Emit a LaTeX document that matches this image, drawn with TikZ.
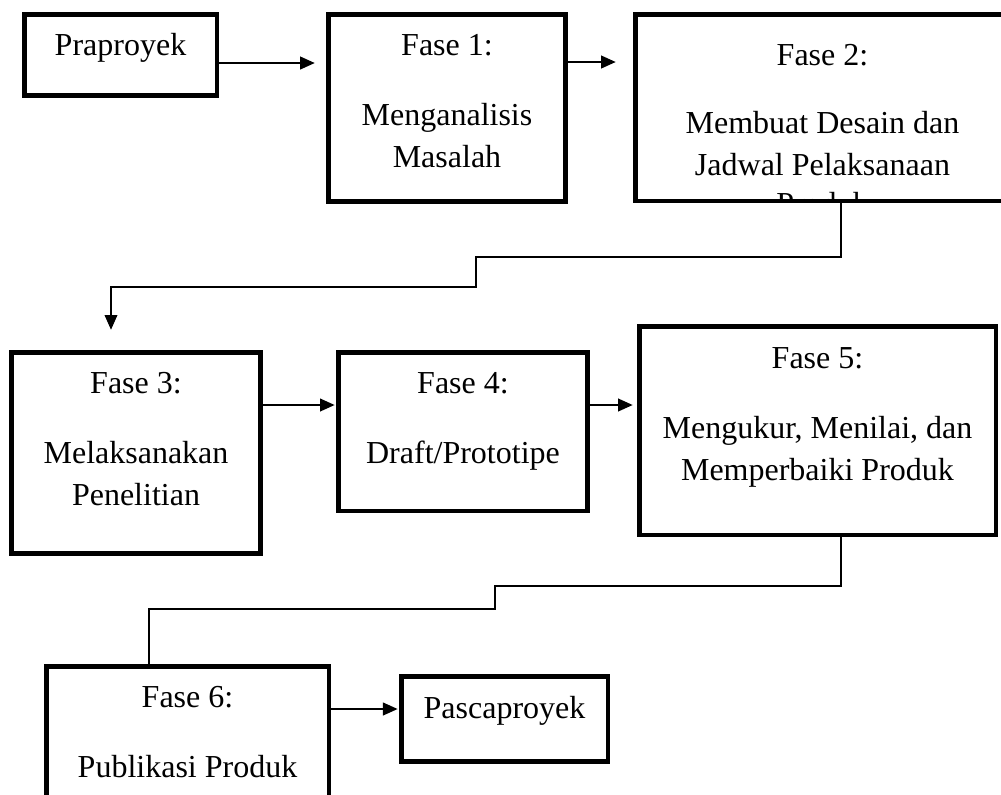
\documentclass[tikz,border=0pt]{standalone}
\usepackage{fontspec}
\setmainfont{Liberation Serif}
\usetikzlibrary{arrows.meta,calc}

\tikzset{every picture/.style={line width=0.75pt}}
\tikzset{
  box/.style={draw, line width=3.4pt, inner sep=0pt},
  txt/.style={anchor=base, inner sep=0pt, align=center, font=\fontsize{24}{31.5}\selectfont},
  arr/.style={line width=1.5pt, -{Triangle[length=11pt,width=9.5pt]}},
  link/.style={line width=1pt},
}

\begin{document}
\begin{tikzpicture}[x=0.75pt,y=0.75pt,yscale=-1,xscale=1]
\useasboundingbox (0,0) rectangle (1001,794);

%Shape: Rectangle [pra]
\node[box, minimum width=144.4pt, minimum height=61.1pt] (pra) at (120.5,55) {};
%Shape: Rectangle [fase 1]
\node[box, minimum width=178.1pt, minimum height=140.6pt] (f1) at (447,108) {};
%Shape: Rectangle [fase 2]
\node[box, minimum width=280.9pt, minimum height=139.9pt] (f2) at (822.5,107.5) {};
%Shape: Rectangle [fase 3]
\node[box, minimum width=187.1pt, minimum height=151.1pt] (f3) at (136,453) {};
%Shape: Rectangle [fase 4]
\node[box, minimum width=187.1pt, minimum height=118.9pt] (f4) at (463,431.5) {};
%Shape: Rectangle [fase 5]
\node[box, minimum width=267.4pt, minimum height=156.4pt] (f5) at (817.5,430.5) {};
%Shape: Rectangle [fase 6]
\node[box, minimum width=211.9pt, minimum height=121.1pt] (f6) at (187.5,747) {};
%Shape: Rectangle [pasca]
\node[box, minimum width=154.9pt, minimum height=64.1pt] (pas) at (504.5,719) {};

% Text Node (base = last line)
\node[txt] (t0) at (120.5,55) {Praproyek};
% Text Node
\node[txt] (t1) at (447,167) {Fase 1:\\[21pt]Menganalisis\\Masalah};
% Text Node (runs past the box, cut off)
\begin{scope}
\clip (633,12) rectangle (1012,199);
\node[txt] (t2) at (822.5,214.4) {Fase 2:\\[19.5pt]Membuat Desain dan\\Jadwal Pelaksanaan\\[-2pt]Produk};
\end{scope}
% Text Node
\node[txt] (t3) at (136,505) {Fase 3:\\[21pt]Melaksanakan\\Penelitian};
% Text Node
\node[txt] (t4) at (463,463) {Fase 4:\\[21pt]Draft/Prototipe};
% Text Node
\node[txt] (t5) at (817.5,480) {Fase 5:\\[21pt]Mengukur, Menilai, dan\\Memperbaiki Produk};
% Text Node
\node[txt] (t6) at (187.5,777) {Fase 6:\\[21pt]Publikasi Produk};
% Text Node
\node[txt] (t7) at (504.5,718) {Pascaproyek};

%Straight Lines
\draw[arr, shorten >=8.4pt] ($(pra.east)+(0,8)$) -- ($(f1.west)+(0,-45)$);
\draw[arr, shorten >=12.9pt] ($(f1.east)+(0,-46)$) -- ($(f2.west)+(0,-45.5)$);
\draw[arr, shorten >=1pt] ($(f3.east)+(0,-48)$) -- ($(f4.west)+(0,-26.5)$);
\draw[arr, shorten >=3.2pt] ($(f4.east)+(0,-26.5)$) -- ($(f5.west)+(0,-25.5)$);
\draw[arr, shorten >=1pt] ($(f6.east)+(0,-38)$) -- ($(pas.west)+(0,-10)$);

%Elbow Lines
\draw[link, -{Triangle[length=11pt,width=9.5pt]}, shorten >=15.2pt] ($(f2.south)+(18.5,0)$) -- ++(0,54) -- ++(-365,0) -- ++(0,30) -| ($(f3.north)+(-25,0)$);
\draw[link] ($(f5.south)+(23.5,0)$) -- ++(0,49) -- ++(-346,0) -- ++(0,23) -| ($(f6.north)+(-38.5,0)$);

\end{tikzpicture}
\end{document}
